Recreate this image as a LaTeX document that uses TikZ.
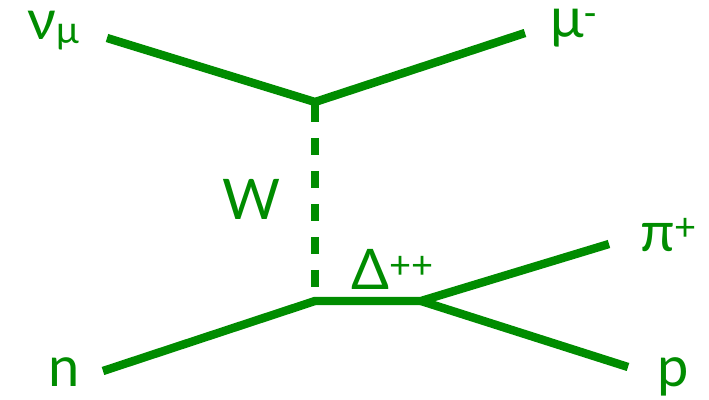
\documentclass[tikz,border=0pt]{standalone}
\usepackage{fontspec}
\setmainfont{Lato}
\usepackage{xcolor}
\usetikzlibrary{calc, positioning}
\definecolor{fgreen}{RGB}{0,140,0}
\newcommand{\upscript}[1]{\raisebox{0.2em}{\fontsize{19}{20}\selectfont #1}}
\newcommand{\lowscript}[1]{\raisebox{-0.06em}{\fontsize{19}{20}\selectfont #1}}
\tikzset{
    prop/.style={line width=4.2pt, color=fgreen},
    boson/.style={line width=4pt, color=fgreen, dash pattern=on 8.5pt off 8pt, dash phase=15pt},
    lbl/.style={anchor=base west, inner sep=0pt, text=fgreen, font=\fontsize{28}{32}\selectfont}
}
\begin{document}
\begin{tikzpicture}[x=0.5pt, y=-0.5pt]
    \useasboundingbox (0,0) rectangle (709,400);
    % 1. Vertices and free ends
    \coordinate (vtop) at (315,102);
    \coordinate (vbot) at (315,301);
    \coordinate (vdec) at (421,301);
    \coordinate (nuend) at (107,38);
    \coordinate (muend) at (525,33);
    \coordinate (nend) at (103,371);
    \coordinate (piend) at (609,244);
    \coordinate (pend) at (628,367);

    % 2. Labels
    \node[lbl] (nu) at (27,40) {ν\lowscript{μ}};
    \node[lbl] (mu) at (550,38) {μ\upscript{-}};
    \node[lbl] (w) at (222,220) {W};
    \node[lbl] (delta) at (351,290) {Δ\upscript{++}};
    \node[lbl] (pi) at (640,252) {π\upscript{+}};
    \node[lbl] (p) at (657,387) {p};
    \node[lbl] (n) at (48,387) {n};

    % 3. Lepton line
    \draw[prop] (nuend) -- (vtop) -- (muend);

    % 4. W exchange
    \draw[boson] (vtop) -- (vbot);

    % 5. Hadron line with the Delta decay
    \draw[prop] (nend) -- (vbot) -- (vdec) -- (piend);
    \draw[prop] (vdec) -- (pend);
\end{tikzpicture}
\end{document}
